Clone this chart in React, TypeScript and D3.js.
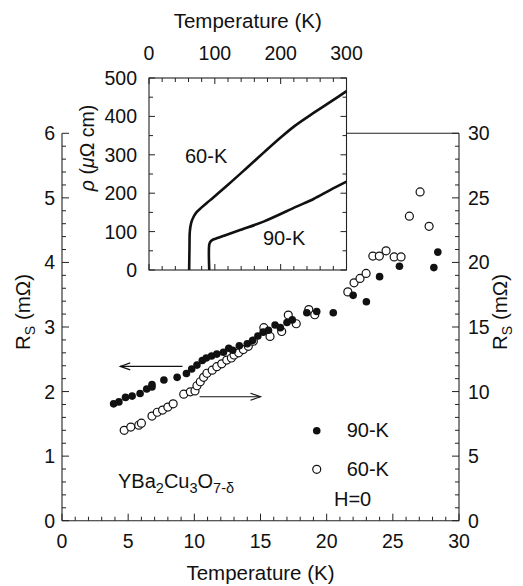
import React from "react";
import * as d3 from "d3";

// ---- data ----
// 90-K film, filled circles, left axis R_S (mΩ)
const t90: number[] = [3.9, 4.3, 4.8, 5.3, 5.9, 6.4, 6.8, 6.8, 7.7, 8.7, 9.4, 9.8, 10.2, 10.6, 10.9, 11.3, 11.7, 12.2, 12.6, 12.9, 13.4, 14.0, 14.4, 14.8, 15.2, 15.6, 16.1, 16.5, 17.0, 17.4, 18.5, 19.25, 20.5, 22.0, 23.0, 24.0, 25.5, 28.1, 28.4];
const r90: number[] = [1.81, 1.84, 1.91, 1.93, 1.97, 2.04, 2.07, 2.11, 2.18, 2.22, 2.28, 2.35, 2.41, 2.48, 2.52, 2.55, 2.58, 2.61, 2.67, 2.64, 2.71, 2.74, 2.79, 2.86, 2.92, 2.95, 3.03, 2.99, 3.07, 3.11, 3.22, 3.24, 3.22, 3.49, 3.39, 3.78, 3.94, 3.92, 4.16];
// 60-K film, open circles, right axis R_S (mΩ)
const t60: number[] = [4.7, 5.2, 5.8, 6.0, 6.8, 7.2, 7.6, 8.0, 8.4, 9.2, 9.7, 10.05, 10.2, 10.45, 10.7, 10.95, 11.35, 11.7, 12.07, 12.45, 12.8, 13.0, 13.35, 13.7, 14.08, 14.46, 15.25, 15.72, 16.6, 17.1, 17.7, 18.65, 19.1, 21.6, 22.07, 22.52, 22.98, 23.49, 23.98, 24.49, 25.1, 25.62, 26.25, 27.06, 27.74];
const r60: number[] = [7.0, 7.25, 7.4, 7.55, 8.1, 8.4, 8.57, 8.8, 9.05, 9.8, 9.98, 10.05, 10.45, 10.76, 11.1, 11.42, 11.66, 11.93, 12.15, 12.44, 12.6, 12.83, 13.0, 13.25, 13.5, 13.9, 14.95, 14.27, 14.65, 15.92, 15.25, 16.35, 15.95, 17.72, 18.42, 18.76, 19.15, 20.49, 20.49, 20.9, 20.43, 20.43, 23.58, 25.46, 22.8];
// inset resistivity curves
const rhoT60: number[] = [61, 61.5, 62, 64, 67, 72, 80, 93, 120, 148, 175, 200, 222, 250, 275, 300];
const rho60: number[] = [0, 60, 100, 122, 136, 150, 163, 182, 222, 265, 307, 345, 376, 409, 437, 466];
const rhoT90: number[] = [91.5, 91.5, 93, 96, 102, 115, 140, 174, 224, 250, 275, 300];
const rho90: number[] = [0, 66, 73, 78, 82, 90, 105, 126, 165, 185, 208, 230];

const xTicks = [0, 5, 10, 15, 20, 25, 30];
const yLeftTicks = [0, 1, 2, 3, 4, 5, 6];
const yRightTicks = [0, 5, 10, 15, 20, 25, 30];
const insetXTicks = [0, 100, 200, 300];
const insetYTicks = [0, 100, 200, 300, 400, 500];

const FONT = "'Liberation Sans', Arial, Helvetica, sans-serif";
const INK = "#111";

export default function App() {
  const x = d3.scaleLinear().domain([0, 30]).range([62, 459]);
  const yL = d3.scaleLinear().domain([0, 6]).range([520.7, 133.3]);
  const yR = d3.scaleLinear().domain([0, 30]).range([520.7, 133.3]);

  const ix = d3.scaleLinear().domain([0, 300]).range([149, 346.5]);
  const iy = d3.scaleLinear().domain([0, 500]).range([270, 78]);

  const line = d3
    .line<[number, number]>()
    .x((d) => ix(d[0]))
    .y((d) => iy(d[1]))
    .curve(d3.curveCatmullRom.alpha(0.5));
  const c60 = line(rhoT60.map((t, i) => [t, rho60[i]] as [number, number])) || "";
  const c90 = line(rhoT90.map((t, i) => [t, rho90[i]] as [number, number])) || "";

  const minorX = d3.range(0, 31, 1);
  const minorYL = d3.range(0, 6.01, 0.2);
  const insetMinorX = d3.range(0, 301, 20);
  const insetMinorY = d3.range(0, 501, 50);

  const [x0, x1] = x.range();
  const yb = yL(0);
  const yt = yL(6);

  const arrow = (xa: number, xb: number, yy: number) => {
    const dir = xb > xa ? 1 : -1;
    return (
      <g stroke={INK} strokeWidth={1.1} fill="none">
        <line x1={xa} y1={yy} x2={xb} y2={yy} />
        <path d={`M${xb - dir * 10},${yy - 3.5} L${xb},${yy} L${xb - dir * 10},${yy + 3.5}`} />
      </g>
    );
  };

  return (
    <svg width={523} height={586} style={{ display: "block", position: "absolute", left: 0, top: 0 }} fontFamily={FONT}>
      <rect width={523} height={586} fill="white" />
      {/* main frame */}
      <g stroke="#222" strokeWidth={1.1} fill="none">
        <line x1={x0} y1={yt} x2={x0} y2={yb} />
        <line x1={x0} y1={yb} x2={x1} y2={yb} />
        <line x1={x1} y1={yt} x2={x1} y2={yb} />
        <line x1={ix(300)} y1={yt} x2={x1} y2={yt} />
      </g>
      {/* main ticks */}
      <g stroke="#222" strokeWidth={1}>
        {minorX.map((v) => (
          <line key={"mx" + v} x1={x(v)} x2={x(v)} y1={yb} y2={yb - (v % 5 === 0 ? 7 : 4)} />
        ))}
        {minorYL.map((v, i) => (
          <line key={"my" + i} x1={x0} x2={x0 + (i % 5 === 0 ? 7 : 4)} y1={yL(v)} y2={yL(v)} />
        ))}
        {d3.range(0, 31, 1).map((v) => (
          <line key={"ry" + v} x1={x1} x2={x1 - (v % 5 === 0 ? 7 : 4)} y1={yR(v)} y2={yR(v)} />
        ))}
      </g>
      {/* main tick labels */}
      <g fill={INK} fontSize={19.5}>
        {xTicks.map((v) => (
          <text key={"xl" + v} x={x(v)} y={548} textAnchor="middle">{v}</text>
        ))}
        {yLeftTicks.map((v) => (
          <text key={"yl" + v} x={55} y={yL(v) + 7} textAnchor="end">{v}</text>
        ))}
        {yRightTicks.map((v) => (
          <text key={"yr" + v} x={468} y={yR(v) + 7} textAnchor="start">{v}</text>
        ))}
      </g>
      {/* axis titles */}
      <text x={(x0 + x1) / 2} y={580} textAnchor="middle" fontSize={20.5} fill={INK}>Temperature (K)</text>
      <text transform={`translate(30,312) rotate(-90)`} textAnchor="middle" fontSize={20.5} fill={INK}>
        R<tspan fontSize={14} dy={5}>S</tspan>
        <tspan dy={-5}> (mΩ)</tspan>
      </text>
      <text transform={`translate(507,312) rotate(-90)`} textAnchor="middle" fontSize={20.5} fill={INK}>
        R<tspan fontSize={14} dy={5}>S</tspan>
        <tspan dy={-5}> (mΩ)</tspan>
      </text>

      {/* data */}
      <g>
        {t60.map((t, i) => (
          <circle key={"o" + i} cx={x(t)} cy={yR(r60[i])} r={4} fill="white" stroke={INK} strokeWidth={1.2} />
        ))}
        {t90.map((t, i) => (
          <circle key={"f" + i} cx={x(t)} cy={yL(r90[i])} r={3.8} fill={INK} />
        ))}
      </g>

      {/* arrows */}
      {arrow(x(9.1), x(4.4), yL(2.39))}
      {arrow(x(10.4), x(15.0), yR(9.6))}

      {/* legend and labels */}
      <circle cx={x(19.25)} cy={430.7} r={3.8} fill={INK} />
      <text x={346.7} y={437} fontSize={20} fill={INK}>90-K</text>
      <circle cx={x(19.25)} cy={469.3} r={4} fill="white" stroke={INK} strokeWidth={1.2} />
      <text x={346.7} y={476} fontSize={20} fill={INK}>60-K</text>
      <text x={334} y={506} fontSize={20} fill={INK}>H=0</text>
      <text x={118} y={488} fontSize={20} fill={INK}>
        YBa<tspan fontSize={14.5} dy={5}>2</tspan>
        <tspan dy={-5}>Cu</tspan>
        <tspan fontSize={14.5} dy={5}>3</tspan>
        <tspan dy={-5}>O</tspan>
        <tspan fontSize={14.5} dy={5}>7-δ</tspan>
      </text>

      {/* inset */}
      <rect x={ix(0)} y={iy(500)} width={ix(300) - ix(0)} height={iy(0) - iy(500)} fill="white" stroke="#222" strokeWidth={1.1} />
      <g stroke="#222" strokeWidth={1}>
        {insetMinorX.map((v) => (
          <g key={"ixt" + v}>
            <line x1={ix(v)} x2={ix(v)} y1={iy(0)} y2={iy(0) - (v % 100 === 0 ? 6 : 4)} />
            <line x1={ix(v)} x2={ix(v)} y1={iy(500)} y2={iy(500) + (v % 100 === 0 ? 6 : 4)} />
          </g>
        ))}
        {insetMinorY.map((v) => (
          <g key={"iyt" + v}>
            <line x1={ix(0)} x2={ix(0) + (v % 100 === 0 ? 6 : 4)} y1={iy(v)} y2={iy(v)} />
            <line x1={ix(300)} x2={ix(300) - (v % 100 === 0 ? 6 : 4)} y1={iy(v)} y2={iy(v)} />
          </g>
        ))}
      </g>
      <path d={c60} fill="none" stroke={INK} strokeWidth={2.6} strokeLinejoin="round" />
      <path d={c90} fill="none" stroke={INK} strokeWidth={2.6} strokeLinejoin="round" />
      <g fill={INK} fontSize={19.5}>
        {insetXTicks.map((v) => (
          <text key={"ixl" + v} x={ix(v)} y={60} textAnchor="middle">{v}</text>
        ))}
        {insetYTicks.map((v) => (
          <text key={"iyl" + v} x={137} y={iy(v) + 7} textAnchor="end">{v}</text>
        ))}
      </g>
      <text x={(ix(0) + ix(300)) / 2} y={28} textAnchor="middle" fontSize={20.5} fill={INK}>Temperature (K)</text>
      <text transform={`translate(94,148) rotate(-90)`} textAnchor="middle" fontSize={19.5} fill={INK}>
        <tspan fontStyle="italic">ρ</tspan>
        <tspan>{"  ("}</tspan>
        <tspan fontStyle="italic">μ</tspan>
        <tspan>Ω cm)</tspan>
      </text>
      <text x={185} y={163} fontSize={20} fill={INK}>60-K</text>
      <text x={263} y={245} fontSize={20} fill={INK}>90-K</text>
    </svg>
  );
}
